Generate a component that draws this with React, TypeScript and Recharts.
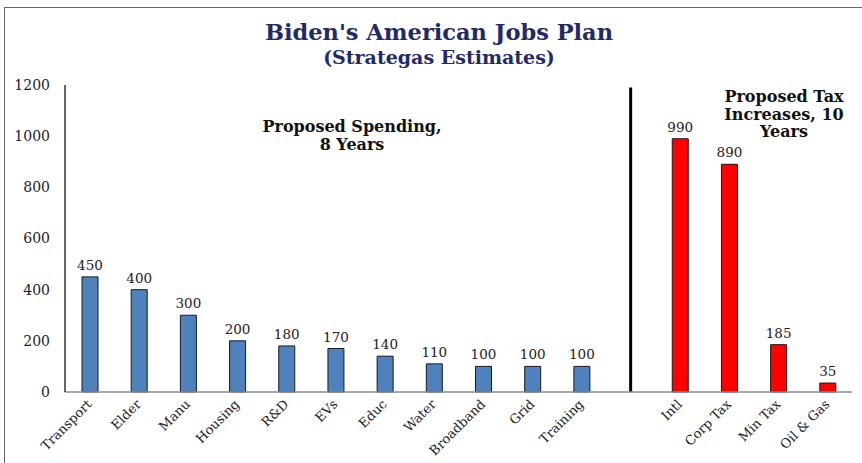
import { BarChart, Bar, XAxis, YAxis, Cell, LabelList, ReferenceLine } from 'recharts';

// spending side (8 years) and tax side (10 years), $bn
const spendingLabels = ['Transport', 'Elder', 'Manu', 'Housing', 'R&D', 'EVs', 'Educ', 'Water', 'Broadband', 'Grid', 'Training'];
const spendingValues = [450, 400, 300, 200, 180, 170, 140, 110, 100, 100, 100];
const taxLabels = ['Intl', 'Corp Tax', 'Min Tax', 'Oil & Gas'];
const taxValues = [990, 890, 185, 35];
const yTicks = [0, 200, 400, 600, 800, 1000, 1200];
const GAP = ' ';

const data = [
  ...spendingLabels.map((name, i) => ({ name, value: spendingValues[i], group: 'spend' })),
  { name: GAP, value: null, group: 'gap' },
  ...taxLabels.map((name, i) => ({ name, value: taxValues[i], group: 'tax' })),
];

const serif = '"DejaVu Serif", Georgia, serif';

const XTick = (props: any) => {
  const { x, y, payload } = props;
  const ax = x + 3;
  const ay = y + 11;
  return (
    <text
      x={ax}
      y={ay}
      textAnchor="end"
      fontFamily={serif}
      fontSize={13}
      fill="#222"
      transform={`rotate(-45, ${ax}, ${ay})`}
    >
      {payload.value}
    </text>
  );
};

export default function App() {
  return (
    <div style={{ position: 'absolute', left: 0, top: 0, width: 862, height: 463, background: '#fff' }}>
      <div
        style={{
          position: 'absolute',
          left: 4,
          top: 7,
          width: 858,
          height: 456,
          borderLeft: '1.5px solid #666',
          borderTop: '1.5px solid #666',
        }}
      />
      <div
        style={{
          position: 'absolute',
          left: 0,
          width: 878,
          top: 20,
          textAlign: 'center',
          fontFamily: serif,
          fontWeight: 'bold',
          color: '#1f2a66',
          lineHeight: '25px',
        }}
      >
        <div style={{ fontSize: 22.5 }}>Biden's American Jobs Plan</div>
        <div style={{ fontSize: 19 }}>(Strategas Estimates)</div>
      </div>
      <div
        style={{
          position: 'absolute',
          left: 242,
          width: 220,
          top: 118,
          textAlign: 'center',
          fontFamily: serif,
          fontWeight: 'bold',
          fontSize: 16,
          lineHeight: '18px',
          color: '#111',
        }}
      >
        Proposed Spending,
        <br />8 Years
      </div>
      <div
        style={{
          position: 'absolute',
          left: 709,
          width: 150,
          top: 88,
          textAlign: 'center',
          fontFamily: serif,
          fontWeight: 'bold',
          fontSize: 16,
          lineHeight: '17.5px',
          color: '#111',
        }}
      >
        Proposed Tax
        <br />
        Increases, 10
        <br />
        Years
      </div>
      <div style={{ position: 'absolute', left: 0, top: 0 }}>
        <BarChart width={862} height={463} data={data} margin={{ top: 85, right: 10, left: 0, bottom: 0 }} barSize={16}>
          <XAxis
            dataKey="name"
            interval={0}
            height={71}
            tickLine={false}
            tickSize={0}
            axisLine={{ stroke: '#8c8c8c', strokeWidth: 1.5 }}
            tick={<XTick />}
          />
          <YAxis
            width={65}
            domain={[0, 1200]}
            ticks={yTicks}
            tickLine={false}
            tickSize={0}
            tickMargin={15}
            axisLine={{ stroke: '#333', strokeWidth: 1.5 }}
            tick={{ fontFamily: serif, fontSize: 14, fill: '#1a1a2e' }}
          />
          <ReferenceLine
            segment={[
              { x: GAP, y: 1190 },
              { x: GAP, y: 0 },
            ]}
            stroke="#000"
            strokeWidth={3}
            ifOverflow="visible"
          />
          <Bar dataKey="value" stroke="#1a1a1a" strokeWidth={1} isAnimationActive={false}>
            {data.map((d, i) => (
              <Cell key={i} fill={d.group === 'tax' ? '#ff0000' : '#4f81bd'} />
            ))}
            <LabelList dataKey="value" position="top" offset={7} fontFamily={serif} fontSize={13.5} fill="#222" />
          </Bar>
        </BarChart>
      </div>
    </div>
  );
}
